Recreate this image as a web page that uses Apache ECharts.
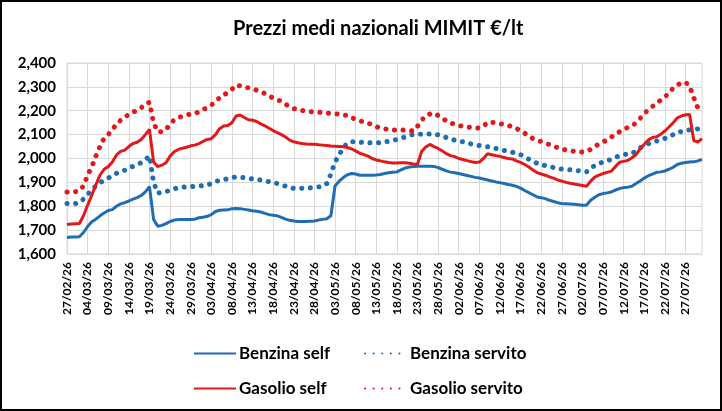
<!DOCTYPE html>
<html>
<head>
<meta charset="utf-8">
<script src="https://cdn.jsdelivr.net/npm/echarts/dist/echarts.min.js"></script>
<style>
  html, body { margin: 0; padding: 0; background: #fff; }
  #main { width: 722px; height: 411px; }
</style>
</head>
<body>
<div id="main"></div>
<script>
// daily series, from 27/02/26
const startDate = [2026, 1, 27];
const dayCount = 155;

const benzinaSelf = [
  1.669,1.671,1.671,1.672,1.690,1.715,1.735,1.746,1.760,1.772,
  1.782,1.786,1.800,1.810,1.815,1.822,1.830,1.836,1.845,1.860,
  1.882,1.745,1.716,1.720,1.727,1.736,1.742,1.744,1.745,1.745,
  1.745,1.746,1.752,1.754,1.758,1.765,1.778,1.783,1.784,1.785,
  1.790,1.791,1.790,1.787,1.784,1.781,1.779,1.776,1.770,1.765,
  1.762,1.760,1.753,1.746,1.741,1.738,1.736,1.736,1.736,1.737,
  1.738,1.742,1.745,1.748,1.760,1.885,1.905,1.920,1.932,1.937,
  1.935,1.930,1.930,1.930,1.930,1.931,1.933,1.937,1.940,1.942,
  1.944,1.952,1.960,1.964,1.966,1.968,1.968,1.968,1.968,1.967,
  1.962,1.955,1.948,1.943,1.940,1.937,1.933,1.929,1.925,1.921,
  1.918,1.914,1.910,1.906,1.902,1.899,1.895,1.891,1.888,1.883,
  1.876,1.866,1.857,1.848,1.839,1.836,1.832,1.825,1.820,1.815,
  1.811,1.810,1.809,1.808,1.806,1.804,1.805,1.825,1.838,1.848,
  1.853,1.856,1.860,1.868,1.874,1.878,1.880,1.884,1.895,1.906,
  1.918,1.928,1.935,1.942,1.944,1.948,1.955,1.963,1.975,1.980,
  1.983,1.985,1.986,1.990,1.996
];

const benzinaServito = [
  1.811,1.811,1.811,1.815,1.830,1.850,1.868,1.885,1.899,1.908,
  1.918,1.928,1.938,1.945,1.951,1.960,1.967,1.975,1.982,1.995,
  2.011,1.900,1.855,1.858,1.862,1.866,1.873,1.878,1.880,1.881,
  1.882,1.884,1.885,1.886,1.888,1.896,1.904,1.908,1.911,1.916,
  1.920,1.923,1.922,1.920,1.917,1.914,1.912,1.910,1.907,1.903,
  1.899,1.895,1.890,1.884,1.878,1.875,1.875,1.875,1.876,1.877,
  1.879,1.881,1.884,1.895,1.935,1.985,2.015,2.045,2.065,2.070,
  2.070,2.068,2.067,2.066,2.065,2.065,2.067,2.070,2.072,2.075,
  2.080,2.085,2.090,2.096,2.101,2.101,2.102,2.103,2.103,2.103,
  2.099,2.094,2.088,2.082,2.077,2.073,2.070,2.065,2.061,2.057,
  2.054,2.051,2.049,2.047,2.042,2.039,2.034,2.030,2.026,2.021,
  2.016,2.006,1.997,1.988,1.980,1.975,1.970,1.966,1.962,1.958,
  1.956,1.955,1.953,1.951,1.949,1.946,1.944,1.960,1.970,1.978,
  1.986,1.991,1.996,2.004,2.012,2.016,2.019,2.021,2.032,2.045,
  2.053,2.062,2.068,2.073,2.078,2.084,2.090,2.100,2.110,2.113,
  2.117,2.120,2.123,2.124,null
];

const gasolioSelf = [
  1.724,1.726,1.727,1.728,1.760,1.805,1.845,1.890,1.930,1.955,
  1.966,1.985,2.015,2.030,2.035,2.050,2.063,2.068,2.080,2.100,
  2.122,1.985,1.966,1.972,1.982,2.010,2.028,2.038,2.043,2.047,
  2.053,2.056,2.062,2.072,2.080,2.083,2.100,2.125,2.136,2.138,
  2.150,2.178,2.182,2.172,2.162,2.160,2.155,2.145,2.137,2.127,
  2.117,2.108,2.100,2.090,2.077,2.070,2.066,2.063,2.061,2.060,
  2.060,2.058,2.056,2.054,2.052,2.051,2.050,2.049,2.046,2.040,
  2.032,2.022,2.016,2.010,2.000,1.994,1.990,1.986,1.983,1.981,
  1.981,1.982,1.982,1.980,1.977,1.975,2.030,2.048,2.059,2.050,
  2.042,2.032,2.020,2.012,2.008,2.000,1.996,1.991,1.987,1.983,
  1.985,2.000,2.020,2.016,2.012,2.009,2.004,2.000,1.998,1.990,
  1.984,1.975,1.964,1.952,1.941,1.935,1.930,1.923,1.918,1.910,
  1.905,1.900,1.896,1.893,1.890,1.887,1.884,1.905,1.922,1.930,
  1.937,1.942,1.947,1.966,1.984,1.988,1.992,2.003,2.016,2.040,
  2.060,2.078,2.088,2.091,2.102,2.115,2.132,2.150,2.170,2.178,
  2.183,2.184,2.075,2.069,2.083
];

const gasolioServito = [
  1.860,1.860,1.861,1.865,1.885,1.930,1.965,2.010,2.050,2.085,
  2.100,2.120,2.145,2.160,2.172,2.185,2.195,2.200,2.212,2.230,
  2.235,2.150,2.112,2.112,2.120,2.145,2.162,2.172,2.177,2.182,
  2.186,2.189,2.195,2.205,2.213,2.224,2.238,2.255,2.267,2.275,
  2.290,2.308,2.304,2.299,2.296,2.293,2.286,2.280,2.272,2.262,
  2.253,2.246,2.240,2.228,2.216,2.209,2.205,2.201,2.198,2.196,
  2.195,2.194,2.192,2.190,2.189,2.187,2.186,2.183,2.180,2.172,
  2.163,2.158,2.153,2.149,2.140,2.133,2.128,2.124,2.121,2.119,
  2.119,2.119,2.119,2.117,2.115,2.135,2.160,2.180,2.186,2.190,
  2.180,2.169,2.158,2.149,2.143,2.138,2.135,2.132,2.130,2.128,
  2.127,2.135,2.152,2.151,2.150,2.146,2.142,2.138,2.133,2.126,
  2.115,2.106,2.095,2.083,2.077,2.071,2.065,2.058,2.052,2.045,
  2.039,2.036,2.033,2.030,2.028,2.027,2.030,2.038,2.050,2.061,
  2.070,2.077,2.090,2.100,2.112,2.122,2.130,2.136,2.150,2.168,
  2.188,2.205,2.218,2.233,2.244,2.258,2.274,2.295,2.308,2.316,
  2.320,2.302,2.255,2.212,null
];

const yMin = 1.6;
const yMax = 2.4;
const yStep = 0.1;

// date labels dd/mm/yy
const dates = [];
for (let i = 0; i < dayCount; i++) {
  const d = new Date(startDate[0], startDate[1], startDate[2] + i);
  const dd = String(d.getDate()).padStart(2, '0');
  const mm = String(d.getMonth() + 1).padStart(2, '0');
  const yy = String(d.getFullYear()).slice(2);
  dates.push(dd + '/' + mm + '/' + yy);
}

const blue = '#1f6db3';
const red = '#e2191b';
const font = 'Lato, "Open Sans", sans-serif';
const dots = [0.1, 8.5];

const chartDom = document.getElementById('main');
const myChart = echarts.init(chartDom);

function legendAt(name, left, top) {
  return {
    data: [name],
    left: left,
    top: top,
    itemWidth: 42,
    itemHeight: 6,
    itemGap: 4,
    // hide the centre symbol, keep the line sample
    itemStyle: { opacity: 0 },
    textStyle: { fontFamily: font, fontWeight: 'bold', fontSize: 17, color: '#000', padding: [0, 0, 0, -2] }
  };
}

const option = {
  animation: false,
  backgroundColor: '#fff',
  title: {
    text: 'Prezzi medi nazionali MIMIT €/lt',
    left: 228,
    top: 14,
    textStyle: { fontFamily: font, fontWeight: 'bold', fontSize: 20, color: '#000' }
  },
  graphic: [{
    type: 'rect',
    shape: { x: 1, y: 1, width: 720, height: 409 },
    style: { fill: 'none', stroke: '#000', lineWidth: 2 },
    silent: true
  }],
  legend: [
    legendAt('Benzina self', 188, 340),
    legendAt('Benzina servito', 359, 340),
    legendAt('Gasolio self', 188, 375),
    legendAt('Gasolio servito', 359, 375)
  ],
  grid: {
    left: 67, right: 20, top: 63, bottom: 157,
    show: true, borderColor: '#d9d9d9', borderWidth: 1
  },
  xAxis: {
    type: 'category',
    data: dates,
    boundaryGap: false,
    axisLine: { show: false },
    axisTick: { show: false },
    axisLabel: {
      interval: 4, rotate: 90, margin: 8,
      fontFamily: font, fontWeight: 'bold', fontSize: 12, color: '#000'
    },
    splitLine: { show: true, interval: 4, lineStyle: { color: '#d9d9d9', width: 1 } }
  },
  yAxis: {
    type: 'value',
    min: yMin, max: yMax, interval: yStep,
    axisLine: { show: false },
    axisTick: { show: false },
    axisLabel: {
      margin: 11,
      fontFamily: font, fontWeight: 'bold', fontSize: 15, color: '#000',
      formatter: v => v.toFixed(3).replace('.', ',')
    },
    splitLine: { lineStyle: { color: '#d9d9d9', width: 1 } }
  },
  series: [
    {
      name: 'Benzina self', type: 'line', data: benzinaSelf, symbol: 'none',
      color: blue, lineStyle: { color: blue, width: 3 }, z: 3
    },
    {
      name: 'Benzina servito', type: 'line', data: benzinaServito, symbol: 'none',
      color: blue, lineStyle: { color: blue, width: 5, type: dots, cap: 'round' }, z: 2
    },
    {
      name: 'Gasolio self', type: 'line', data: gasolioSelf, symbol: 'none',
      color: red, lineStyle: { color: red, width: 3 }, z: 3
    },
    {
      name: 'Gasolio servito', type: 'line', data: gasolioServito, symbol: 'none',
      color: red, lineStyle: { color: red, width: 5, type: dots, cap: 'round' }, z: 2
    }
  ]
};

option && myChart.setOption(option);
</script>
</body>
</html>
